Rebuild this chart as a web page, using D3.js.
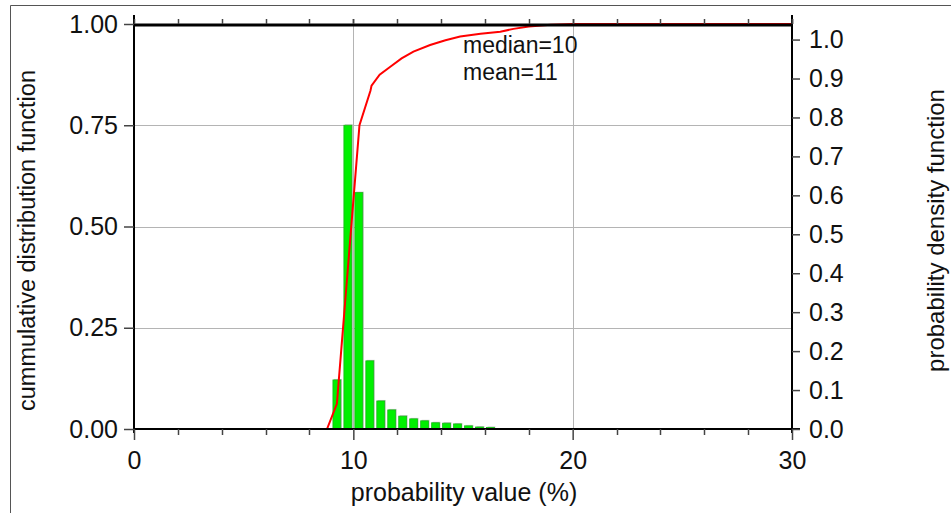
<!DOCTYPE html>
<html>
<head>
<meta charset="utf-8">
<script src="https://cdn.jsdelivr.net/npm/d3@7"></script>
<style>
  body { margin: 0; background: #fff; }
  text { font-family: "Liberation Sans", Arial, sans-serif; fill: #111; }
</style>
</head>
<body>
<div id="chart"></div>
<script>
// histogram bins (probability value %, bin centres) and their density
var binCenters = [9.25, 9.75, 10.25, 10.75, 11.25, 11.75, 12.25, 12.75, 13.25, 13.75, 14.25, 14.75, 15.25, 15.75, 16.25];
var pdfValues  = [0.126, 0.78, 0.607, 0.175, 0.072, 0.049, 0.033, 0.026, 0.021, 0.016, 0.015, 0.013, 0.008, 0.005, 0.004];

// cumulative distribution curve
var cdfX = [0, 8.8, 9.25, 10.28, 10.78, 10.83, 11.2, 11.67, 12.2, 12.74, 13.5, 14.2, 14.87, 15.8, 16.7, 17.3, 18.0, 19.0, 20.0, 30.0];
var cdfY = [0, 0, 0.062, 0.75, 0.835, 0.848, 0.875, 0.894, 0.915, 0.932, 0.948, 0.96, 0.969, 0.976, 0.981, 0.988, 0.994, 0.998, 1.0, 1.0];

var xTicks = [0, 10, 20, 30];
var leftTicks = [0, 0.25, 0.5, 0.75, 1.0];
var rightTicks = [0, 0.1, 0.2, 0.3, 0.4, 0.5, 0.6, 0.7, 0.8, 0.9, 1.0];
var notes = ["median=10", "mean=11"];

var W = 951, H = 513;
var L = 134, R = 792, T = 24, B = 429;

var svg = d3.select("#chart").append("svg")
    .attr("width", W)
    .attr("height", H);

var x = d3.scaleLinear().domain([0, 30]).range([L, R]);
var yL = d3.scaleLinear().domain([0, 1]).range([B, T]);
var yR = d3.scaleLinear().domain([0, 1.04]).range([B, T]);

// outer frame (left + top only, picture is cropped)
svg.append("path")
    .attr("d", "M10.5," + H + "V5.5H" + W)
    .attr("fill", "none")
    .attr("stroke", "#555")
    .attr("stroke-width", 1);

// grid
svg.append("g").selectAll("line")
    .data([0.25, 0.5, 0.75])
    .enter().append("line")
    .attr("x1", L).attr("x2", R)
    .attr("y1", function(d) { return Math.round(yL(d)) + 0.5; })
    .attr("y2", function(d) { return Math.round(yL(d)) + 0.5; })
    .attr("stroke", "#b4b4b4");

svg.append("g").selectAll("line")
    .data([10, 20])
    .enter().append("line")
    .attr("x1", function(d) { return Math.round(x(d)) + 0.5; })
    .attr("x2", function(d) { return Math.round(x(d)) + 0.5; })
    .attr("y1", T).attr("y2", B)
    .attr("stroke", "#b4b4b4");

// bars
var bw = 0.36;
var bars = svg.append("g");
bars.selectAll(".shadow")
    .data(binCenters)
    .enter().append("rect")
    .attr("class", "shadow")
    .attr("x", function(d) { return x(d - bw / 2) + 1; })
    .attr("y", function(d, i) { return yR(pdfValues[i]) - 1; })
    .attr("width", function(d) { return x(d + bw / 2) - x(d - bw / 2); })
    .attr("height", function(d, i) { return B - yR(pdfValues[i]) + 1; })
    .attr("fill", "#c8c8c8");
bars.selectAll(".bar")
    .data(binCenters)
    .enter().append("rect")
    .attr("class", "bar")
    .attr("x", function(d) { return x(d - bw / 2); })
    .attr("y", function(d, i) { return yR(pdfValues[i]); })
    .attr("width", function(d) { return x(d + bw / 2) - x(d - bw / 2); })
    .attr("height", function(d, i) { return B - yR(pdfValues[i]); })
    .attr("fill", "#00f000")
    .attr("stroke", "#16b816")
    .attr("stroke-width", 0.8);

// cdf line
var line = d3.line()
    .x(function(d) { return x(d[0]); })
    .y(function(d) { return yL(d[1]); });
svg.append("path")
    .datum(d3.zip(cdfX, cdfY))
    .attr("d", line)
    .attr("fill", "none")
    .attr("stroke", "#ff0000")
    .attr("stroke-width", 2);

// axes lines
var axisG = svg.append("g").attr("stroke", "#000");
axisG.append("line").attr("x1", L).attr("x2", R + 8).attr("y1", B).attr("y2", B).attr("stroke-width", 2);
axisG.append("line").attr("x1", L).attr("x2", R).attr("y1", T + 1).attr("y2", T + 1).attr("stroke-width", 3);
axisG.append("line").attr("x1", L).attr("x2", L).attr("y1", 15).attr("y2", B + 4).attr("stroke-width", 2);
axisG.append("line").attr("x1", R).attr("x2", R).attr("y1", 15).attr("y2", B + 4).attr("stroke-width", 2);

// bottom / top axis ticks
var minor = d3.range(0, 31, 2).filter(function(d) { return d % 10 !== 0; });
var bottomAxis = d3.axisBottom(x).tickValues(xTicks).tickSize(11).tickFormat(d3.format("d"));
var gb = svg.append("g").attr("transform", "translate(0," + B + ")").call(bottomAxis);
gb.select(".domain").remove();
gb.selectAll(".tick line").attr("stroke", "#444").attr("stroke-width", 1.5);
gb.selectAll(".tick text").attr("font-size", 25).attr("dy", "1.02em").attr("fill", "#111");
svg.append("g").selectAll("line")
    .data(minor)
    .enter().append("line")
    .attr("x1", function(d) { return Math.round(x(d)) + 0.5; })
    .attr("x2", function(d) { return Math.round(x(d)) + 0.5; })
    .attr("y1", B).attr("y2", B + 6)
    .attr("stroke", "#444").attr("stroke-width", 1.5);
svg.append("g").selectAll("line")
    .data(d3.range(0, 31, 2).concat([10, 20, 30]))
    .enter().append("line")
    .attr("x1", function(d) { return Math.round(x(d)) + 0.5; })
    .attr("x2", function(d) { return Math.round(x(d)) + 0.5; })
    .attr("y1", T).attr("y2", T - 5)
    .attr("stroke", "#444").attr("stroke-width", 1.5);

// left axis
var leftAxis = d3.axisLeft(yL).tickValues(leftTicks).tickSize(10).tickPadding(6).tickFormat(d3.format(".2f"));
var gl = svg.append("g").attr("transform", "translate(" + L + ",0)").call(leftAxis);
gl.select(".domain").remove();
gl.selectAll(".tick line").attr("stroke", "#444").attr("stroke-width", 1.5);
gl.selectAll(".tick text").attr("font-size", 25).attr("fill", "#111");

// right axis
var rightAxis = d3.axisRight(yR).tickValues(rightTicks).tickSize(8).tickPadding(9).tickFormat(d3.format(".1f"));
var gr = svg.append("g").attr("transform", "translate(" + R + ",0)").call(rightAxis);
gr.select(".domain").remove();
gr.selectAll(".tick line").attr("stroke", "#444").attr("stroke-width", 1.5);
gr.selectAll(".tick text").attr("font-size", 25).attr("fill", "#111");

// axis titles
svg.append("text")
    .attr("x", (L + R) / 2 + 1)
    .attr("y", 501)
    .attr("text-anchor", "middle")
    .attr("font-size", 25)
    .text("probability value (%)");
svg.append("text")
    .attr("transform", "translate(35," + ((T + B) / 2 + 14) + ") rotate(-90)")
    .attr("text-anchor", "middle")
    .attr("font-size", 23.5)
    .text("cummulative distribution function");
svg.append("text")
    .attr("transform", "translate(944," + ((T + B) / 2 + 4) + ") rotate(-90)")
    .attr("text-anchor", "middle")
    .attr("font-size", 24)
    .text("probability density function");

// annotations
svg.append("g").selectAll("text")
    .data(notes)
    .enter().append("text")
    .attr("x", 463)
    .attr("y", function(d, i) { return 53 + i * 27; })
    .attr("font-size", 23)
    .text(function(d) { return d; });
</script>
</body>
</html>
